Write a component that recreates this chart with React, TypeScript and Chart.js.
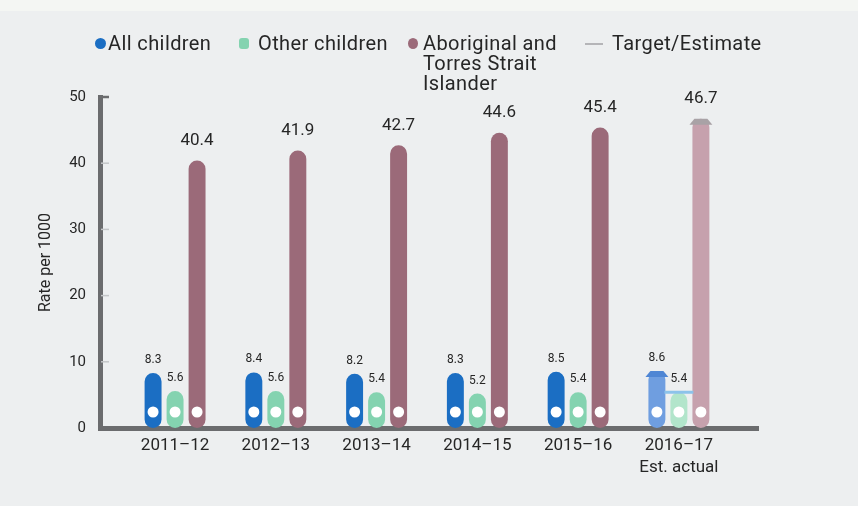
import React, { useEffect, useRef } from 'react';
import { Chart, registerables } from 'chart.js';

Chart.register(...registerables);

const categories: (string | string[])[] = ['2011–12', '2012–13', '2013–14', '2014–15', '2015–16', ['2016–17', 'Est. actual']];
const allChildren = [8.3, 8.4, 8.2, 8.3, 8.5, 8.6];
const otherChildren = [5.6, 5.6, 5.4, 5.2, 5.4, 5.4];
const aboriginal = [40.4, 41.9, 42.7, 44.6, 45.4, 46.7];
const yTicks = [0, 10, 20, 30, 40, 50];
const estimateIndex = 5;

const legendItems = ['All children', 'Other children', 'Aboriginal and\nTorres Strait\nIslander', 'Target/Estimate'];

const BLUE = '#1b6ec3';
const BLUE_EST = '#6f9ee0';
const GREEN = '#84d3b0';
const GREEN_EST = '#b2e5cb';
const MAUVE = '#9b6a79';
const MAUVE_EST = '#c6a1ad';
const AXIS = '#6b6c6e';
const TEXT = '#262626';
const BG = '#edeff0';

const fontFamily = 'Roboto, "Open Sans", sans-serif';

const colorsFor = (solid: string, est: string) => categories.map((_, i) => (i === estimateIndex ? est : solid));
const toPoints = (arr: number[]) => arr.map((v, i) => ({ x: i, y: v }));

const overlayPlugin = {
  id: 'overlay',
  afterDatasetsDraw(chart: any) {
    const ctx = chart.ctx;
    const area = chart.chartArea;
    const yScale = chart.scales.y;
    ctx.save();
    // inward y tick marks
    yTicks.forEach((v) => {
      if (v === 0) return;
      const py = yScale.getPixelForValue(v);
      ctx.beginPath();
      ctx.strokeStyle = v === 50 ? AXIS : '#c4c6c8';
      ctx.lineWidth = v === 50 ? 2.5 : 1.5;
      ctx.moveTo(area.left + 1, py);
      ctx.lineTo(area.left + 9, py);
      ctx.stroke();
    });
    const estColors = ['#4f86d4', '#8cc3ea', '#a9a2a6'];
    chart.data.datasets.forEach((ds: any, di: number) => {
      const meta = chart.getDatasetMeta(di);
      meta.data.forEach((el: any, i: number) => {
        const w = el.width;
        // white circle near the base
        ctx.beginPath();
        ctx.fillStyle = '#ffffff';
        ctx.arc(el.x, el.base - 16, 5.5, 0, Math.PI * 2);
        ctx.fill();
        // estimate markers
        if (i === estimateIndex) {
          ctx.fillStyle = estColors[di];
          if (di === 1) {
            ctx.fillRect(el.x - w / 2 - 6, el.y - 1.5, w + 12, 3);
          } else {
            ctx.beginPath();
            ctx.moveTo(el.x - w / 2 - 3, el.y + 6);
            ctx.lineTo(el.x - w / 2 + 2, el.y);
            ctx.lineTo(el.x + w / 2 - 2, el.y);
            ctx.lineTo(el.x + w / 2 + 3, el.y + 6);
            ctx.closePath();
            ctx.fill();
          }
        }
        // value label
        const big = di === 2;
        ctx.fillStyle = TEXT;
        ctx.font = `${big ? 17 : 12}px ${fontFamily}`;
        ctx.textAlign = 'center';
        ctx.textBaseline = 'middle';
        const val = ds.data[i].y;
        ctx.fillText(val.toFixed(1), el.x, el.y - (big ? 20 : 13));
      });
    });
    ctx.restore();
  },
};

export default function App() {
  const canvasRef = useRef<HTMLCanvasElement | null>(null);

  useEffect(() => {
    const canvas = canvasRef.current;
    if (!canvas) return;
    const chart = new Chart(canvas, {
      type: 'bar',
      data: {
        datasets: [
          { label: legendItems[0], data: toPoints(allChildren) as any, backgroundColor: colorsFor(BLUE, BLUE_EST) },
          { label: legendItems[1], data: toPoints(otherChildren) as any, backgroundColor: colorsFor(GREEN, GREEN_EST) },
          { label: legendItems[2], data: toPoints(aboriginal) as any, backgroundColor: colorsFor(MAUVE, MAUVE_EST) },
        ],
      },
      options: {
        responsive: false,
        animation: false,
        layout: { padding: { left: 0, right: 100, top: 97, bottom: 0 } },
        datasets: {
          bar: {
            barPercentage: 0.77,
            categoryPercentage: 0.655,
            borderRadius: 9,
            borderSkipped: false,
          },
        },
        plugins: { legend: { display: false }, tooltip: { enabled: false } },
        scales: {
          x: {
            type: 'linear',
            offset: false,
            min: -0.745,
            max: 5.785,
            afterBuildTicks: (s: any) => {
              s.ticks = categories.map((_, i) => ({ value: i }));
            },
            afterFit: (s: any) => {
              s.height = 78;
            },
            grid: { display: false, drawTicks: false, offset: false },
            border: { display: true, color: AXIS, width: 5 },
            ticks: {
              autoSkip: false,
              maxRotation: 0,
              padding: 7,
              color: TEXT,
              font: { family: fontFamily, size: 17, lineHeight: 1.3 },
              callback: (v: any) => categories[v as number],
            },
          },
          y: {
            min: 0,
            max: 50,
            afterBuildTicks: (s: any) => {
              s.ticks = yTicks.map((v) => ({ value: v }));
            },
            afterFit: (s: any) => {
              s.width = 100;
            },
            grid: { display: false, drawTicks: false },
            border: { display: true, color: AXIS, width: 5 },
            ticks: {
              padding: 14,
              color: TEXT,
              font: { family: fontFamily, size: 15 },
            },
            title: {
              display: true,
              text: 'Rate per 1000',
              color: TEXT,
              font: { family: fontFamily, size: 16 },
              padding: { top: 36, bottom: 0 },
            },
          },
        },
      },
      plugins: [overlayPlugin],
    } as any);
    return () => chart.destroy();
  }, []);

  const legendText: React.CSSProperties = {
    position: 'absolute',
    fontFamily,
    fontSize: 20,
    letterSpacing: 0.4,
    lineHeight: '20px',
    color: TEXT,
    whiteSpace: 'pre',
  };

  return (
    <div style={{ position: 'fixed', left: 0, top: 0, width: 858, height: 506, background: BG, overflow: 'hidden' }}>
      <div style={{ position: 'absolute', left: 0, top: 0, width: 858, height: 11, background: '#f4f6f3' }} />
      <canvas ref={canvasRef} width={858} height={506} style={{ position: 'absolute', left: 0, top: 0, display: 'block' }} />
      <div style={{ position: 'absolute', left: 95, top: 38, width: 11, height: 11, borderRadius: '50%', background: BLUE }} />
      <div style={{ ...legendText, left: 108, top: 33 }}>{legendItems[0]}</div>
      <div style={{ position: 'absolute', left: 239, top: 38, width: 10, height: 11, borderRadius: 3, background: GREEN }} />
      <div style={{ ...legendText, left: 258, top: 33 }}>{legendItems[1]}</div>
      <div style={{ position: 'absolute', left: 408, top: 38, width: 10, height: 11, borderRadius: '50%', background: MAUVE }} />
      <div style={{ ...legendText, left: 423, top: 33 }}>{legendItems[2]}</div>
      <div style={{ position: 'absolute', left: 585, top: 43, width: 18, height: 2, background: '#b5b5b8' }} />
      <div style={{ ...legendText, left: 612, top: 33 }}>{legendItems[3]}</div>
    </div>
  );
}
